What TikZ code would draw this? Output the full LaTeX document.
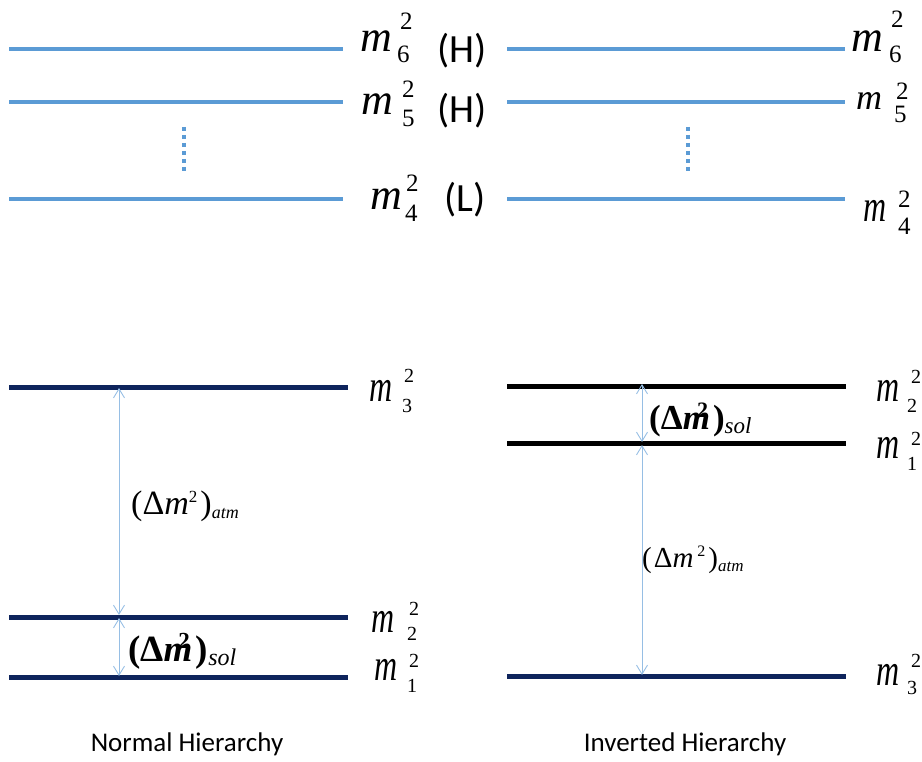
\documentclass[tikz,border=0pt]{standalone}
\usepackage{fontspec}
\setmainfont{Liberation Serif}
\newfontfamily\calfont{Carlito}
\usetikzlibrary{arrows.meta}
\definecolor{lblue}{RGB}{91,155,213}
\definecolor{navy}{RGB}{14,36,92}
\definecolor{arrc}{RGB}{150,190,228}
\tikzset{
  lvllight/.style={draw=lblue,line width=4.5pt},
  lvlnavy/.style={draw=navy,line width=5pt},
  lvlblack/.style={draw=black,line width=5pt},
  dotl/.style={draw=lblue,line width=3.5pt,dash pattern=on 4pt off 4pt},
  arr/.style={draw=arrc,line width=0.9pt,{Straight Barb[length=9pt,width=11pt]}-{Straight Barb[length=9pt,width=11pt]}},
  mbig/.style={inner sep=0,anchor=base west,font=\fontsize{44}{44}\selectfont\itshape},
  mmid/.style={inner sep=0,anchor=base west,font=\fontsize{36}{36}\selectfont\itshape},
  msmall/.style={inner sep=0,anchor=base west,font=\fontsize{32}{32}\selectfont\itshape},
  digbig/.style={inner sep=0,anchor=base west,font=\fontsize{25}{25}\selectfont},
  digsmall/.style={inner sep=0,anchor=base west,font=\fontsize{20}{20}\selectfont},
  hl/.style={inner sep=0,anchor=base west,font=\calfont\fontsize{40}{40}\selectfont},
  dl/.style={inner sep=0,anchor=base west,font=\fontsize{34}{34}\selectfont},
  captext/.style={inner sep=0,anchor=base,font=\calfont\fontsize{27}{27}\selectfont},
}
\newcommand\ms[1]{\scalebox{1}[1.4]{#1}}
\begin{document}
\begin{tikzpicture}[x=1pt,y=-1pt]
\useasboundingbox (0,0) rectangle (922,762);
% ---------- top light blue levels, left
\coordinate (a6) at (9,49);  \coordinate (b6) at (343,49);
\coordinate (a5) at (9,102); \coordinate (b5) at (343,102);
\coordinate (a4) at (9,199); \coordinate (b4) at (343,199);
\draw[lvllight] (a6) -- (b6);
\draw[lvllight] (a5) -- (b5);
\draw[lvllight] (a4) -- (b4);
\coordinate (d1) at (184,127); \coordinate (d2) at (184,174);
\draw[dotl] (d1) -- (d2);
% ---------- top light blue levels, right
\coordinate (c6) at (507,49);  \coordinate (e6) at (845,49);
\coordinate (c5) at (507,102); \coordinate (e5) at (845,102);
\coordinate (c4) at (507,199); \coordinate (e4) at (845,199);
\draw[lvllight] (c6) -- (e6);
\draw[lvllight] (c5) -- (e5);
\draw[lvllight] (c4) -- (e4);
\coordinate (f1) at (688,127); \coordinate (f2) at (688,174);
\draw[dotl] (f1) -- (f2);
% ---------- top labels, left
\node[mbig] (m6L) at (360,52) {m};
\node[digbig] (m6Lsup) at (400,30) {2};
\node[digbig] (m6Lsub) at (397,63) {6};
\node[hl] (h6) at (437,63) {(H)};
\node[mbig] (m5L) at (361,115) {m};
\node[digbig] (m5Lsup) at (402,98) {2};
\node[digbig] (m5Lsub) at (402,127) {5};
\node[hl] (h5) at (437,123) {(H)};
\node[mbig] (m4L) at (370,210) {m};
\node[digbig] (m4Lsup) at (406,192) {2};
\node[digbig] (m4Lsub) at (405,222) {4};
\node[hl] (h4) at (444,212) {(L)};
% ---------- top labels, right
\node[mbig] (m6R) at (851,52) {m};
\node[digbig] (m6Rsup) at (891,28) {2};
\node[digbig] (m6Rsub) at (889,63) {6};
\node[mmid] (m5R) at (856,110) {m};
\node[digbig] (m5Rsup) at (896,100) {2};
\node[digbig] (m5Rsub) at (894,123) {5};
\node[msmall] (m4R) at (863,222) {\ms{m}};
\node[digbig] (m4Rsup) at (898,208) {2};
\node[digbig] (m4Rsub) at (898,235) {4};
% ---------- bottom levels, left (normal)
\coordinate (n3a) at (9,387);  \coordinate (n3b) at (348,387);
\coordinate (n2a) at (9,617);  \coordinate (n2b) at (348,617);
\coordinate (n1a) at (9,677);  \coordinate (n1b) at (348,677);
\draw[lvlnavy] (n3a) -- (n3b);
\draw[lvlnavy] (n2a) -- (n2b);
\draw[lvlnavy] (n1a) -- (n1b);
\coordinate (p3) at (119,388); \coordinate (p2) at (119,615);
\coordinate (p2b) at (119,618); \coordinate (p1) at (119,676);
\draw[arr] (p3) -- (p2);
\draw[arr] (p2b) -- (p1);
\node[msmall] (m3N) at (369,402) {\ms{m}};
\node[digsmall] (m3Nsup) at (404,383) {2};
\node[digsmall] (m3Nsub) at (402,413) {3};
\node[msmall] (m2N) at (371,632) {\ms{m}};
\node[digsmall] (m2Nsup) at (409,615) {2};
\node[digsmall] (m2Nsub) at (407,640) {2};
\node[msmall] (m1N) at (374,680) {\ms{m}};
\node[digsmall] (m1Nsup) at (409,667) {2};
\node[digsmall] (m1Nsub) at (407,692) {1};
\node[dl] (atmN) at (131,514) {(\textup{Δ}\textit{m}\raisebox{12pt}{\fontsize{17}{17}\selectfont 2}\hspace{3pt})\raisebox{-4pt}{\fontsize{18}{18}\selectfont\itshape atm}};
\node[dl,font=\fontsize{37}{37}\selectfont] (solN) at (128,661) {\bfseries(\textup{Δ}\textit{m}\hspace{-14pt}\raisebox{13pt}{\fontsize{23}{23}\selectfont 2}\hspace{6pt})\raisebox{-4pt}{\fontsize{24}{24}\mdseries\itshape sol}};
% ---------- bottom levels, right (inverted)
\coordinate (i2a) at (507,386); \coordinate (i2b) at (846,386);
\coordinate (i1a) at (507,443); \coordinate (i1b) at (846,443);
\coordinate (i3a) at (507,676); \coordinate (i3b) at (846,676);
\draw[lvlblack] (i2a) -- (i2b);
\draw[lvlblack] (i1a) -- (i1b);
\draw[lvlnavy] (i3a) -- (i3b);
\coordinate (q2) at (642,384); \coordinate (q1) at (642,442);
\coordinate (q1b) at (642,445); \coordinate (q3) at (642,675);
\draw[arr] (q2) -- (q1);
\draw[arr] (q1b) -- (q3);
\node[msmall] (m2I) at (876,402) {\ms{m}};
\node[digsmall] (m2Isup) at (911,384) {2};
\node[digsmall] (m2Isub) at (907,412) {2};
\node[msmall] (m1I) at (876,458) {\ms{m}};
\node[digsmall] (m1Isup) at (911,445) {2};
\node[digsmall] (m1Isub) at (907,470) {1};
\node[msmall] (m3I) at (876,685) {\ms{m}};
\node[digsmall] (m3Isup) at (911,667) {2};
\node[digsmall] (m3Isub) at (907,694) {3};
\node[dl,font=\fontsize{35}{35}\selectfont] (solI) at (649,429) {\bfseries(\textup{Δ}\textit{m}\hspace{-13pt}\raisebox{12pt}{\fontsize{22}{22}\selectfont 2}\hspace{5pt})\raisebox{-4pt}{\fontsize{23}{23}\mdseries\itshape sol}};
\node[dl,font=\fontsize{29}{29}\selectfont] (atmI) at (642,567) {(\hspace{2pt}\textup{Δ}\textit{m}\hspace{4pt}\raisebox{11pt}{\fontsize{16}{16}\selectfont 2}\hspace{3pt})\raisebox{-4pt}{\fontsize{17}{17}\selectfont\itshape atm}};
% ---------- captions
\node[captext] (capN) at (187,751) {Normal Hierarchy};
\node[captext] (capI) at (685,751) {Inverted Hierarchy};
\end{tikzpicture}
\end{document}
